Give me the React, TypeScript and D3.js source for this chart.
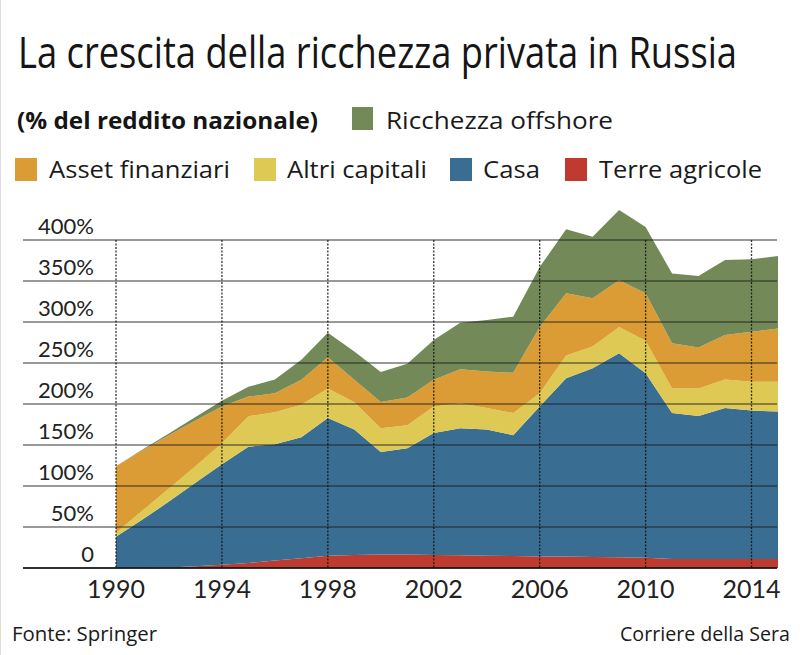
import React from "react";
import * as d3 from "d3";

const years = [1990, 1991, 1992, 1993, 1994, 1995, 1996, 1997, 1998, 1999, 2000, 2001, 2002, 2003, 2004, 2005, 2006, 2007, 2008, 2009, 2010, 2011, 2012, 2013, 2014, 2015];
const terreAgricole = [0, 0, 0.5, 2, 4, 6, 9, 12, 15, 16, 16.5, 16.5, 16, 15.5, 15, 14.5, 14, 14, 13.5, 13, 12.5, 11, 11, 11, 11, 11];
const casa = [38, 59, 80.5, 102, 122.5, 142, 142, 147.5, 168, 153, 125, 129.5, 148.5, 155, 154, 147.5, 183, 217.5, 230, 249, 225, 178, 174.5, 184, 181, 180];
const altriCapitali = [5, 11, 16, 20, 25.5, 37, 39, 39.5, 36, 33, 29, 28, 32.5, 30.5, 26, 27, 16, 27.5, 26.5, 32, 39.5, 30, 33.5, 35, 35, 36];
const assetFinanziari = [81, 73.5, 65, 56, 45, 24, 23, 30.5, 38, 27.5, 32, 34, 32.5, 41.5, 44.5, 49, 81, 76, 59, 57, 58, 55, 50, 54, 61, 65];
const ricchezzaOffshore = [0, 1, 2, 4, 7, 12, 17, 24.5, 30, 34.5, 36.5, 41, 48.5, 56.5, 63, 68.5, 73, 78, 75, 85.5, 81, 85, 87, 91.5, 88.5, 88.5];

const seriesKeys = ["terre", "casa", "altri", "asset", "offshore"];
const seriesColors: Record<string, string> = {
  terre: "#c03b2f",
  casa: "#3a6d92",
  altri: "#dfc955",
  asset: "#dc9c35",
  offshore: "#738a58",
};
const yTicks = [0, 50, 100, 150, 200, 250, 300, 350, 400];
const xTicks = [1990, 1994, 1998, 2002, 2006, 2010, 2014];

const title = "La crescita della ricchezza privata in Russia";
const subtitle = "(% del reddito nazionale)";
const source = "Fonte: Springer";
const credit = "Corriere della Sera";

export default function App() {
  const rows = years.map((year, i) => ({
    year,
    terre: terreAgricole[i],
    casa: casa[i],
    altri: altriCapitali[i],
    asset: assetFinanziari[i],
    offshore: ricchezzaOffshore[i],
  }));
  const stacked = d3.stack<any>().keys(seriesKeys)(rows);

  const x = d3.scaleLinear().domain([1990, 2015]).range([116, 778]);
  const y = d3.scaleLinear().domain([0, 400]).range([568, 240]);

  const area = d3
    .area<any>()
    .x((d: any) => x(d.data.year))
    .y0((d: any) => y(d[0]))
    .y1((d: any) => y(d[1]));

  const font = "'Open Sans', 'Noto Sans', sans-serif";
  const tickFont = "Lato, 'Open Sans', sans-serif";

  const legendRow2 = [
    { key: "asset", label: "Asset finanziari", sx: 15, tx: 49, tl: 181 },
    { key: "altri", label: "Altri capitali", sx: 254, tx: 287, tl: 140 },
    { key: "casa", label: "Casa", sx: 450, tx: 483, tl: 57 },
    { key: "terre", label: "Terre agricole", sx: 565, tx: 599, tl: 163 },
  ];

  const titleScale = 0.76;

  return (
    <svg
      width={800}
      height={655}
      style={{ position: "absolute", left: 0, top: 0, background: "#fff" }}
    >
      <rect x={0} y={0} width={800} height={655} fill="#fff" />
      <line x1={0.5} x2={0.5} y1={0} y2={655} stroke="#ddd" strokeWidth={1} />

      <g transform={`translate(18,68) scale(${titleScale},1)`}>
        <text
          x={0}
          y={0}
          fontFamily={font}
          fontSize={43}
          fill="#151515"
          textLength={719 / titleScale}
          lengthAdjust="spacingAndGlyphs"
        >
          {title}
        </text>
      </g>

      <text
        x={17}
        y={129}
        fontFamily={font}
        fontWeight="bold"
        fontSize={23}
        fill="#151515"
        textLength={301}
        lengthAdjust="spacingAndGlyphs"
      >
        {subtitle}
      </text>
      <rect x={352} y={107} width={21} height={23} fill={seriesColors.offshore} />
      <text
        x={386}
        y={129}
        fontFamily={font}
        fontSize={24}
        fill="#1a1a1a"
        textLength={227}
        lengthAdjust="spacingAndGlyphs"
      >
        Ricchezza offshore
      </text>

      {legendRow2.map((l) => (
        <g key={l.key}>
          <rect x={l.sx} y={158} width={22} height={23} fill={seriesColors[l.key]} />
          <text
            x={l.tx}
            y={178}
            fontFamily={font}
            fontSize={24}
            fill="#1a1a1a"
            textLength={l.tl}
            lengthAdjust="spacingAndGlyphs"
          >
            {l.label}
          </text>
        </g>
      ))}

      {stacked.map((s: any) => (
        <path key={s.key} d={area(s) || ""} fill={seriesColors[s.key]} />
      ))}

      {yTicks.map((t) => (
        <g key={t}>
          <line
            x1={23}
            x2={777}
            y1={y(t)}
            y2={y(t)}
            stroke="#1a1a1a"
            strokeOpacity={t === 0 ? 0.9 : 0.6}
            strokeWidth={t === 0 ? 2 : 1.5}
          />
          <text
            x={94}
            y={y(t) - 6}
            textAnchor="end"
            fontFamily={tickFont}
            fontSize={22}
            fill="#222"
          >
            {t === 0 ? "0" : `${t}%`}
          </text>
        </g>
      ))}

      {xTicks.map((t) => (
        <g key={t}>
          <line
            x1={x(t)}
            x2={x(t)}
            y1={y(400)}
            y2={y(0)}
            stroke="#111"
            strokeWidth={1.3}
            strokeDasharray="2,1.5"
            strokeOpacity={0.85}
          />
          <text
            x={x(t)}
            y={598}
            textAnchor="middle"
            fontFamily={tickFont}
            fontSize={25}
            fill="#222"
          >
            {t}
          </text>
        </g>
      ))}

      <text
        x={12}
        y={641}
        fontFamily={font}
        fontSize={20}
        fill="#1a1a1a"
        textLength={145}
        lengthAdjust="spacingAndGlyphs"
      >
        {source}
      </text>
      <text
        x={620}
        y={641}
        fontFamily={font}
        fontSize={20}
        fill="#1a1a1a"
        textLength={170}
        lengthAdjust="spacingAndGlyphs"
      >
        {credit}
      </text>
    </svg>
  );
}
